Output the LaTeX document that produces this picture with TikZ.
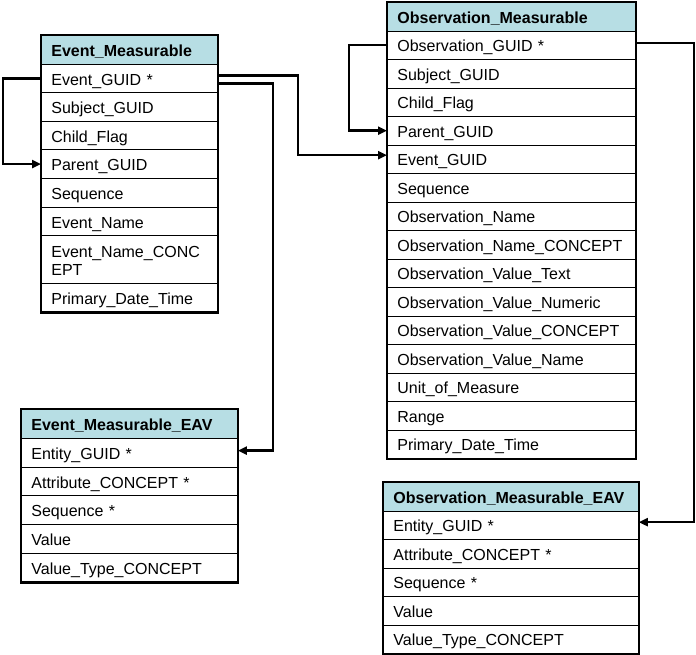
\documentclass[tikz,border=0pt]{standalone}
\usepackage{fontspec}
\setmainfont{Liberation Sans}
\usetikzlibrary{arrows.meta,fit}
\definecolor{hdrblue}{RGB}{183,222,228}
\begin{document}
\begin{tikzpicture}[x=1pt,y=-1pt]
\tikzset{
 cell/.style={draw=black, line width=0.8pt, rectangle, anchor=north west, inner xsep=10pt, inner ysep=0pt, align=left, text height=15pt, text depth=1.6pt, font=\fontsize{16}{18}\selectfont},
 hdr/.style={cell, fill=hdrblue, font=\fontsize{16}{18}\selectfont\bfseries},
 tframe/.style={draw=black, line width=2.6pt, inner sep=0pt},
 link/.style={draw=black, line width=2.6pt, -{Triangle[length=9pt,width=8pt]}},
}
\useasboundingbox[fill=white] (0,0) rectangle (696,654);

% Event_Measurable
\node[hdr, text width=156pt, minimum height=28.6pt] (em0) at (41,35) {Event\_Measurable};
\foreach \t [count=\i from 1] in {Event\_GUID *, Subject\_GUID, Child\_Flag, Parent\_GUID, Sequence, Event\_Name}{
  \node[cell, text width=156pt, minimum height=28.6pt] (em\i) at (41,{35+28.6*\i}) {\t};
}
\node[cell, text width=156pt, minimum height=47.5pt, text depth=18.5pt] (em7) at (41,235.2) {Event\_Name\_CONC\\EPT};
\node[cell, text width=156pt, minimum height=29pt] (em8) at (41,282.7) {Primary\_Date\_Time};
\node[tframe, fit=(em0)(em8)] (em) {};

% Observation_Measurable
\node[hdr, text width=228pt, minimum height=28.5pt] (om0) at (387,2) {Observation\_Measurable};
\foreach \t [count=\i from 1] in {Observation\_GUID *, Subject\_GUID, Child\_Flag, Parent\_GUID, Event\_GUID, Sequence, Observation\_Name, Observation\_Name\_CONCEPT, Observation\_Value\_Text, Observation\_Value\_Numeric, Observation\_Value\_CONCEPT, Observation\_Value\_Name, Unit\_of\_Measure, Range, Primary\_Date\_Time}{
  \node[cell, text width=228pt, minimum height=28.5pt] (om\i) at (387,{2+28.5*\i}) {\t};
}
\node[tframe, fit=(om0)(om15)] (om) {};

% Event_Measurable_EAV
\node[hdr, text width=196pt, minimum height=28.8pt] (ev0) at (21,409) {Event\_Measurable\_EAV};
\foreach \t [count=\i from 1] in {Entity\_GUID *, Attribute\_CONCEPT *, Sequence *, Value, Value\_Type\_CONCEPT}{
  \node[cell, text width=196pt, minimum height=28.8pt] (ev\i) at (21,{409+28.8*\i}) {\t};
}
\node[tframe, fit=(ev0)(ev5)] (ev) {};

% Observation_Measurable_EAV
\node[hdr, text width=235pt, minimum height=28.5pt] (oe0) at (383,482) {Observation\_Measurable\_EAV};
\foreach \t [count=\i from 1] in {Entity\_GUID *, Attribute\_CONCEPT *, Sequence *, Value, Value\_Type\_CONCEPT}{
  \node[cell, text width=235pt, minimum height=28.5pt] (oe\i) at (383,{482+28.5*\i}) {\t};
}
\node[tframe, fit=(oe0)(oe5)] (oe) {};

% connectors
\draw[link] (em1.west) -- ++(-38,0) |- (em4.west);
\draw[link] ([yshift=3pt]em1.east) -- ++(80,0) |- ([yshift=4pt]om5.west);
\draw[link] ([yshift=-5pt]em1.east) -- ++(55,0) |- ([yshift=2pt]ev1.east);
\draw[link] (om1.west) -- ++(-38,0) |- (om4.west);
\draw[link] ([yshift=2pt]om1.east) -- ++(58,0) |- ([yshift=3pt]oe1.east);
\end{tikzpicture}
\end{document}
